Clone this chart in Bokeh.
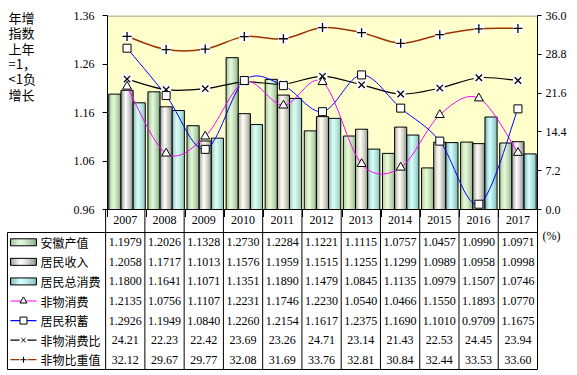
import numpy as np
from bokeh.plotting import figure
from bokeh.models import Range1d, LinearAxis, FixedTicker, PrintfTickFormatter
from bokeh.layouts import column, row
from bokeh.embed import file_html
from bokeh.resources import INLINE
from bokeh.core.properties import value

# ---------------- data ----------------
years = ["2007", "2008", "2009", "2010", "2011", "2012", "2013", "2014", "2015", "2016", "2017"]
anhui_output = [1.1979, 1.2026, 1.1328, 1.2730, 1.2284, 1.1221, 1.1115, 1.0757, 1.0457, 1.0990, 1.0971]
resident_income = [1.2058, 1.1717, 1.1013, 1.1576, 1.1959, 1.1515, 1.1255, 1.1299, 1.0989, 1.0958, 1.0998]
total_consumption = [1.1800, 1.1641, 1.1071, 1.1351, 1.1890, 1.1479, 1.0845, 1.1135, 1.0979, 1.1507, 1.0746]
nonmat_consumption = [1.2135, 1.0756, 1.1107, 1.2231, 1.1746, 1.2230, 1.0540, 1.0466, 1.1550, 1.1893, 1.0770]
savings = [1.2926, 1.1949, 1.0840, 1.2260, 1.2154, 1.1617, 1.2375, 1.1690, 1.1010, 0.9709, 1.1675]
nonmat_ratio = [24.21, 22.23, 22.42, 23.69, 23.26, 24.71, 23.14, 21.43, 22.53, 24.45, 23.94]
nonmat_weight = [32.12, 29.67, 29.77, 32.08, 31.69, 33.76, 32.81, 30.84, 32.44, 33.53, 33.60]

series_names = ["安徽产值", "居民收入", "居民总消费", "非物消费", "居民积蓄", "非物消费比", "非物比重值"]
left_ticks = [0.96, 1.06, 1.16, 1.26, 1.36]
right_ticks = [0.0, 7.2, 14.4, 21.6, 28.8, 36.0]
y_title_lines = ["年增", "指数", "上年", "=1，", "<1负", "增长"]
unit_label = "(%)"

SERIF = "Liberation Serif"
CJK = "Noto Sans CJK SC"

N = len(years)
xc = np.arange(N) + 0.5
CAT_PX = (537 - 105) / N
Y0, Y1 = left_ticks[0], left_ticks[-1]
PX_PER_Y = 194 / (Y1 - Y0)
BOT = 8            # bottom border of the chart (room for the lowest tick labels)
FRAME_BOTTOM = 209


# ---------------- helpers ----------------
def hex2rgb(h):
    h = h.lstrip("#")
    return [int(h[i:i + 2], 16) for i in (0, 2, 4)]


def mix(c1, c2, f):
    a, b = hex2rgb(c1), hex2rgb(c2)
    return "#%02x%02x%02x" % tuple(int(round(a[i] + (b[i] - a[i]) * f)) for i in range(3))


def grad(edge_l, hi, edge_r, n):
    cols = []
    for k in range(n):
        t = (k + 0.5) / n
        if t < 0.4:
            f = (t / 0.4) ** 0.7
            cols.append(mix(edge_l, hi, f))
        else:
            f = ((1 - t) / 0.6) ** 0.7
            cols.append(mix(edge_r, hi, f))
    return cols


def smooth(fig, xs, ys, color, width, **kw):
    x = list(xs)
    y = list(ys)
    n = len(x)
    A, B, C, D, E, F, G, H = ([] for _ in range(8))
    for i in range(n - 1):
        xp, yp = (x[i - 1], y[i - 1]) if i > 0 else (x[i], y[i])
        xn, yn = (x[i + 2], y[i + 2]) if i + 2 < n else (x[i + 1], y[i + 1])
        A.append(x[i]); B.append(y[i])
        C.append(x[i + 1]); D.append(y[i + 1])
        E.append(x[i] + (x[i + 1] - xp) / 6.0)
        F.append(y[i] + (y[i + 1] - yp) / 6.0)
        G.append(x[i + 1] - (xn - x[i]) / 6.0)
        H.append(y[i + 1] - (yn - y[i]) / 6.0)
    fig.bezier(x0=A, y0=B, x1=C, y1=D, cx0=E, cy0=F, cx1=G, cy1=H,
               line_color=color, line_width=width, **kw)


bar_styles = [
    ("#88b088", "#e4fadc", "#709a70"),
    ("#7c7c7c", "#ffffff", "#707070"),
    ("#5e9ea0", "#d4ffff", "#6aaeb0"),
]

TOP_H = FRAME_BOTTOM + BOT

# ---------------- left title strip ----------------
ft = figure(width=70, height=TOP_H, x_range=Range1d(0, 70), y_range=Range1d(TOP_H, 0),
            output_backend="svg", toolbar_location=None, x_axis_location=None, y_axis_location=None,
            frame_align=False, min_border=0)
ft.outline_line_color = None
ft.xgrid.visible = False
ft.ygrid.visible = False
ft.text(x=[8] * len(y_title_lines), y=[17 + 15.3 * j for j in range(len(y_title_lines))],
        text=y_title_lines, text_align="left", text_baseline="middle",
        text_font=value(CJK), text_font_size="13px", text_color="black")

# ---------------- chart ----------------
p = figure(width=507, height=TOP_H, x_range=Range1d(0, N), y_range=Range1d(Y0, Y1),
           output_backend="svg", toolbar_location=None, frame_align=False,
           min_border_left=35, min_border_right=40, min_border_top=15, min_border_bottom=BOT)
p.background_fill_color = "#FFFFCC"
p.border_fill_color = "white"
p.outline_line_color = None
p.xgrid.visible = False
p.ygrid.visible = False
p.extra_y_ranges = {"right": Range1d(0, 36)}

# category axis line with separator ticks (labels live in the data table header)
xa = p.xaxis[0]
xa.ticker = FixedTicker(ticks=list(range(N + 1)), minor_ticks=[])
xa.major_label_overrides = {i: "" for i in range(N + 1)}
xa.major_label_text_font_size = "0px"
xa.major_label_standoff = 0
xa.major_tick_out = BOT
xa.major_tick_in = 0
xa.major_tick_line_color = "black"
xa.axis_line_color = "black"

ya = p.yaxis[0]
ya.ticker = FixedTicker(ticks=left_ticks, minor_ticks=[])
ya.formatter = PrintfTickFormatter(format="%.2f")
ya.major_tick_out = 5
ya.major_tick_in = 0
ya.major_label_standoff = 8
ya.major_label_text_font = SERIF
ya.major_label_text_font_size = "12px"
ya.major_label_text_color = "black"
ya.axis_line_color = "black"

ra = LinearAxis(y_range_name="right", ticker=FixedTicker(ticks=right_ticks, minor_ticks=[]),
                formatter=PrintfTickFormatter(format="%.1f"))
ra.major_tick_out = 4
ra.major_tick_in = 0
ra.major_label_standoff = 4
ra.major_label_text_font = SERIF
ra.major_label_text_font_size = "12px"
ra.major_label_text_color = "black"
ra.axis_line_color = "black"
p.add_layout(ra, "right")

# bars with cylindrical shading
bw = 0.311
NS = 12
for s, (vals, sty) in enumerate(zip([anhui_output, resident_income, total_consumption], bar_styles)):
    off = (s - 1) * bw
    cols = grad(*sty, NS)
    for k in range(NS):
        xs = xc + off - bw / 2 + (k + 0.5) * bw / NS
        p.vbar(x=xs, width=bw / NS * 1.05, top=vals, bottom=Y0,
               fill_color=cols[k], line_color=None)
    p.vbar(x=xc + off, width=bw, top=vals, bottom=Y0,
           fill_color=None, line_color="black", line_width=1)

# lines
smooth(p, xc, nonmat_weight, "#993300", 1.5, y_range_name="right")
smooth(p, xc, nonmat_ratio, "black", 1.2, y_range_name="right")
smooth(p, xc, nonmat_consumption, "#FF00FF", 1.0)
smooth(p, xc, savings, "#0000FF", 1.0)

p.scatter(xc, nonmat_weight, marker="square", size=10, fill_color="white", line_color=None, y_range_name="right")
p.scatter(xc, nonmat_weight, marker="cross", size=9, line_color="black", line_width=1.3, y_range_name="right")
p.scatter(xc, nonmat_ratio, marker="square", size=10, fill_color="white", line_color=None, y_range_name="right")
p.scatter(xc, nonmat_ratio, marker="x", size=9, line_color="black", line_width=1.3, y_range_name="right")
p.scatter(xc, nonmat_consumption, marker="triangle", size=9, fill_color="white", line_color="black", line_width=1)
p.scatter(xc, savings, marker="square", size=8, fill_color="white", line_color="black", line_width=1)

# grey top border of the plot area (kept inside the frame)
p.segment(x0=[0], y0=[Y1 - 0.5 / PX_PER_Y], x1=[N], y1=[Y1 - 0.5 / PX_PER_Y], line_color="#888888", line_width=1)

# ---------------- data table (with category header row) ----------------
# transparent, pulled up by BOT px so that it starts right at the category axis line
px_unit = CAT_PX
ROW_PX = 19.57
HDR = 23 / ROW_PX
x_start = -2.55
x_end = N + 40 / px_unit
t = figure(width=577, height=375 - FRAME_BOTTOM, x_range=Range1d(x_start, x_end),
           y_range=Range1d(7 + 6 / ROW_PX, -HDR),
           output_backend="svg", toolbar_location=None, x_axis_location=None, y_axis_location=None,
           frame_align=False,
           min_border_left=5, min_border_right=0, min_border_top=0, min_border_bottom=0)
t.margin = (-BOT, 0, 0, 0)
t.outline_line_color = None
t.background_fill_color = None
t.border_fill_color = None
t.xgrid.visible = False
t.ygrid.visible = False

cat_sep = list(range(N + 1))
t.segment(x0=cat_sep, y0=[-HDR] * len(cat_sep), x1=cat_sep, y1=[7] * len(cat_sep), line_color="black", line_width=1)
t.segment(x0=[-2.5], y0=[0], x1=[-2.5], y1=[7], line_color="black", line_width=1)
t.segment(x0=[-2.5, -2.5], y0=[0, 7], x1=[N, N], y1=[0, 7], line_color="black", line_width=1)

# category labels
t.text(x=xc, y=[-HDR + 10.5 / ROW_PX] * N, text=years, text_align="center", text_baseline="middle",
       text_font=value(SERIF), text_font_size="12px", text_color="black")

rows = [anhui_output, resident_income, total_consumption, nonmat_consumption, savings, nonmat_ratio, nonmat_weight]
tx, ty, tt = [], [], []
for r, vals in enumerate(rows):
    fmt = "%.4f" if r < 5 else "%.2f"
    for i, v in enumerate(vals):
        tx.append(xc[i]); ty.append(r + 0.5); tt.append(fmt % v)
t.text(x=tx, y=ty, text=tt, text_align="center", text_baseline="middle",
       text_font=value(SERIF), text_font_size="12px", text_color="black")

# legend column
sw0 = -2.5 + 3 / px_unit
sw1 = -2.5 + 29 / px_unit
swh = 7 / ROW_PX
for r, sty in enumerate(bar_styles):
    cols = grad(*sty, 13)
    for k in range(13):
        cx = sw0 + (k + 0.5) * (sw1 - sw0) / 13
        t.rect(x=[cx], y=[r + 0.5], width=(sw1 - sw0) / 13 * 1.05, height=swh,
               fill_color=cols[k], line_color=None)
    t.rect(x=[(sw0 + sw1) / 2], y=[r + 0.5], width=sw1 - sw0, height=swh,
           fill_color=None, line_color="black", line_width=1)

line_leg = [("#FF00FF", "triangle"), ("#0000FF", "square"), ("black", "x"), ("#993300", "cross")]
for j, (col, mk) in enumerate(line_leg):
    r = 3 + j
    t.segment(x0=[sw0], y0=[r + 0.5], x1=[sw1], y1=[r + 0.5], line_color=col, line_width=1.2)
    if mk in ("triangle", "square"):
        t.scatter([(sw0 + sw1) / 2], [r + 0.5], marker=mk, size=7, fill_color="white",
                  line_color="black", line_width=1)
    else:
        t.scatter([(sw0 + sw1) / 2], [r + 0.5], marker="square", size=8, fill_color="white", line_color=None)
        t.scatter([(sw0 + sw1) / 2], [r + 0.5], marker=mk, size=6, line_color="black", line_width=1)

t.text(x=[-2.5 + 33 / px_unit] * 7, y=[r + 0.5 for r in range(7)], text=series_names,
       text_align="left", text_baseline="middle", text_font=value(CJK),
       text_font_size="12px", text_color="black")

t.text(x=[N + 14 / px_unit], y=[(235 - 232) / ROW_PX], text=[unit_label], text_align="center",
       text_baseline="middle", text_font=value(SERIF), text_font_size="12px", text_color="black")

layout = column(row(ft, p, spacing=0), t, spacing=0)
open("out.html", "w").write(file_html(layout, INLINE))
